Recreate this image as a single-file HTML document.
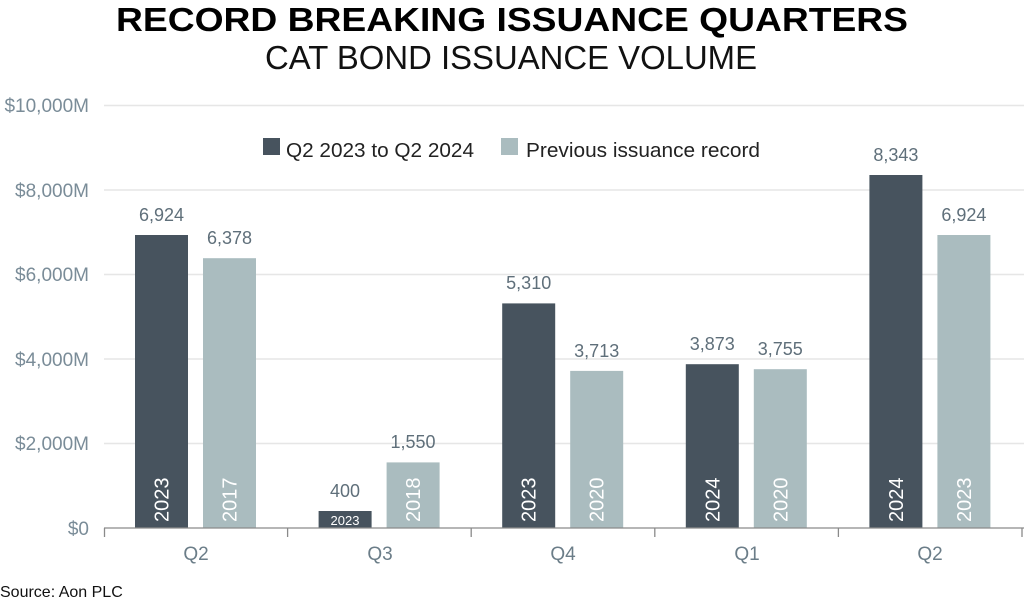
<!DOCTYPE html>
<html><head><meta charset="utf-8"><style>
html,body{margin:0;padding:0;background:#fff;}
svg{display:block;font-family:"Liberation Sans",sans-serif;}
</style></head><body>
<svg width="1024" height="614" viewBox="0 0 1024 614">
<text x="512" y="31" text-anchor="middle" font-size="33" font-weight="bold" fill="#000" textLength="792" lengthAdjust="spacingAndGlyphs">RECORD BREAKING ISSUANCE QUARTERS</text>
<text x="511" y="69" text-anchor="middle" font-size="33" fill="#111" textLength="492" lengthAdjust="spacingAndGlyphs">CAT BOND ISSUANCE VOLUME</text>
<g stroke="#e6e6e6" stroke-width="1.5">
<line x1="104" x2="1024" y1="105.5" y2="105.5"/>
<line x1="104" x2="1024" y1="190" y2="190"/>
<line x1="104" x2="1024" y1="274.5" y2="274.5"/>
<line x1="104" x2="1024" y1="359" y2="359"/>
<line x1="104" x2="1024" y1="443.5" y2="443.5"/>
</g>
<g font-size="19" fill="#7a8c98" text-anchor="end">
<text x="89" y="112">$10,000M</text>
<text x="89" y="197">$8,000M</text>
<text x="89" y="281">$6,000M</text>
<text x="89" y="366">$4,000M</text>
<text x="89" y="450">$2,000M</text>
<text x="89" y="535">$0</text>
</g>
<rect x="263" y="138" width="17" height="17" fill="#47535e"/>
<text x="286" y="157" font-size="20" fill="#222" textLength="188" lengthAdjust="spacingAndGlyphs">Q2 2023 to Q2 2024</text>
<rect x="501" y="138" width="17" height="17" fill="#aabcbf"/>
<text x="526" y="157" font-size="20" fill="#222" textLength="234" lengthAdjust="spacingAndGlyphs">Previous issuance record</text>
<g fill="#47535e">
<rect x="135" y="235" width="53" height="293"/>
<rect x="318.6" y="511" width="53" height="17"/>
<rect x="502.2" y="303.4" width="53" height="224.6"/>
<rect x="685.8" y="364.2" width="53" height="163.8"/>
<rect x="869.4" y="175" width="53" height="353"/>
</g>
<g fill="#aabcbf">
<rect x="203" y="258.2" width="53" height="269.8"/>
<rect x="386.6" y="462.4" width="53" height="65.6"/>
<rect x="570.2" y="370.9" width="53" height="157.1"/>
<rect x="753.8" y="369.2" width="53" height="158.8"/>
<rect x="937.4" y="235" width="53" height="293"/>
</g>
<g font-size="18" fill="#5f6f7a" text-anchor="middle">
<text x="161.5" y="221">6,924</text>
<text x="229.5" y="244">6,378</text>
<text x="345" y="497">400</text>
<text x="413" y="448">1,550</text>
<text x="528.7" y="289">5,310</text>
<text x="596.7" y="357">3,713</text>
<text x="712.3" y="350">3,873</text>
<text x="780.3" y="355">3,755</text>
<text x="895.9" y="161">8,343</text>
<text x="963.9" y="221">6,924</text>
</g>
<g font-size="20" fill="#fff" text-anchor="start">
<text transform="translate(168.5,522) rotate(-90)">2023</text>
<text transform="translate(236.5,522) rotate(-90)">2017</text>
<text transform="translate(420,522) rotate(-90)">2018</text>
<text transform="translate(535.7,522) rotate(-90)">2023</text>
<text transform="translate(603.7,522) rotate(-90)">2020</text>
<text transform="translate(719.3,522) rotate(-90)">2024</text>
<text transform="translate(787.3,522) rotate(-90)">2020</text>
<text transform="translate(902.9,522) rotate(-90)">2024</text>
<text transform="translate(970.9,522) rotate(-90)">2023</text>
</g>
<text x="345" y="525" font-size="13" fill="#fff" text-anchor="middle">2023</text>
<g stroke="#8a8a8a" stroke-width="1.3">
<line x1="104" x2="1024" y1="528" y2="528"/>
<line x1="104.5" x2="104.5" y1="528" y2="537"/>
<line x1="287.6" x2="287.6" y1="528" y2="537"/>
<line x1="471.2" x2="471.2" y1="528" y2="537"/>
<line x1="654.8" x2="654.8" y1="528" y2="537"/>
<line x1="838.4" x2="838.4" y1="528" y2="537"/>
<line x1="1022" x2="1022" y1="528" y2="537"/>
</g>
<g font-size="19" fill="#6b7d88" text-anchor="middle">
<text x="196" y="560">Q2</text>
<text x="380" y="560">Q3</text>
<text x="563" y="560">Q4</text>
<text x="747" y="560">Q1</text>
<text x="930" y="560">Q2</text>
</g>
<text x="0" y="597" font-size="16" fill="#111">Source: Aon PLC</text>
</svg>
</body></html>
